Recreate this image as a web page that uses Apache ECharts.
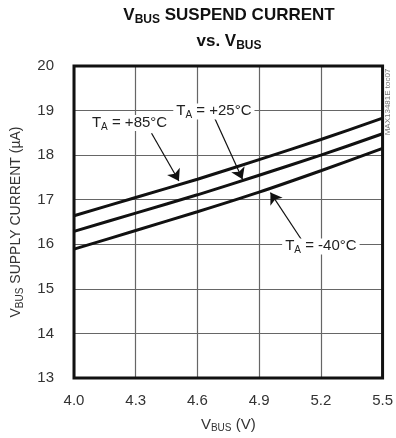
<!DOCTYPE html>
<html>
<head>
<meta charset="utf-8">
<script src="https://cdn.jsdelivr.net/npm/echarts@6/dist/echarts.min.js"></script>
<style>
  html, body { margin: 0; padding: 0; background: #fff; }
  #main { width: 396px; height: 438px; }
</style>
</head>
<body>
<div id="main"></div>
<script>
// VBUS (V) sample points
const vbus = [4.0, 4.3, 4.6, 4.9, 5.2, 5.5];
// supply current (uA) per temperature
const ta85 = [16.64, 17.05, 17.46, 17.90, 18.35, 18.83];
const ta25 = [16.29, 16.70, 17.11, 17.55, 18.00, 18.48];
const taM40 = [15.89, 16.31, 16.73, 17.17, 17.65, 18.15];
// tick labels
const xTicks = ['4.0', '4.3', '4.6', '4.9', '5.2', '5.5'];
const yTicks = [13, 14, 15, 16, 17, 18, 19, 20];
// curve labels: text, label anchor, arrow tail, arrow tip
const curveNotes = [
  { temp: ' = +85°C', at: [4.27, 18.72], from: [4.377, 18.49], to: [4.51, 17.42] },
  { temp: ' = +25°C', at: [4.68, 18.98], from: [4.684, 18.83], to: [4.819, 17.46] },
  { temp: ' = -40°C', at: [5.2, 15.95], from: [5.115, 16.04], to: [4.955, 17.16] }
];

const FONT = "'Liberation Sans', Arial, sans-serif";

const subRich = {
  t: { fontFamily: FONT, fontSize: 15, lineHeight: 16, color: '#222', verticalAlign: 'top' },
  s: { fontFamily: FONT, fontSize: 10, lineHeight: 11, color: '#222', verticalAlign: 'top', padding: [7, 0, 0, 0] }
};

const chart = echarts.init(document.getElementById('main'));

function curve(name, vals) {
  return {
    name: name,
    type: 'line',
    data: vbus.map((v, i) => [v, vals[i]]),
    smooth: 0.3,
    symbol: 'none',
    lineStyle: { color: '#111', width: 3 },
    z: 3
  };
}

const option = {
  animation: false,
  backgroundColor: '#fff',
  grid: { left: 74, right: 9, top: 66, bottom: 60, show: true, borderColor: '#111', borderWidth: 3, z: 4 },
  graphic: [
    {
      type: 'text', x: 229, y: 2,
      style: {
        text: '{b|V}{bs|BUS}{b| SUSPEND CURRENT}\n{b|vs. V}{bs|BUS}',
        align: 'center',
        rich: {
          b: { fontFamily: FONT, fontSize: 17, fontWeight: 'bold', lineHeight: 26, fill: '#111', verticalAlign: 'middle' },
          bs: { fontFamily: FONT, fontSize: 12, fontWeight: 'bold', lineHeight: 12, fill: '#111', verticalAlign: 'middle', padding: [9, 0, 0, 0] }
        }
      }
    },
    {
      type: 'text', x: 388, y: 102, rotation: Math.PI / 2,
      style: { text: 'MAX13481E toc07', align: 'center', verticalAlign: 'middle', fontFamily: FONT, fontSize: 8, fill: '#777' }
    }
  ],
  xAxis: {
    type: 'value',
    min: 4.0,
    max: 5.5,
    interval: 0.3,
    name: '{t|V}{s|BUS}{t| (V)}',
    nameLocation: 'middle',
    nameGap: 39,
    nameTextStyle: { rich: {
      t: { fontFamily: FONT, fontSize: 15, lineHeight: 16, color: '#333', verticalAlign: 'top' },
      s: { fontFamily: FONT, fontSize: 10, lineHeight: 11, color: '#333', verticalAlign: 'top', padding: [6, 0, 0, 0] }
    } },
    axisLine: { show: false },
    axisTick: { show: false },
    axisLabel: {
      margin: 15, fontFamily: FONT, fontSize: 15, color: '#333',
      formatter: v => xTicks.find(t => Math.abs(parseFloat(t) - v) < 1e-6) || ''
    },
    splitLine: { show: true, lineStyle: { color: '#666', width: 1.2 } }
  },
  yAxis: {
    type: 'value',
    min: yTicks[0],
    max: yTicks[yTicks.length - 1],
    interval: 1,
    name: '{t|V}{s|BUS}{t| SUPPLY CURRENT (µA)}',
    nameLocation: 'middle',
    nameGap: 50,
    nameTextStyle: { rich: {
      t: { fontFamily: FONT, fontSize: 14, lineHeight: 15, color: '#333', verticalAlign: 'top' },
      s: { fontFamily: FONT, fontSize: 10, lineHeight: 11, color: '#333', verticalAlign: 'top', padding: [6, 0, 0, 0] }
    } },
    axisLine: { show: false },
    axisTick: { show: false },
    axisLabel: { margin: 20, fontFamily: FONT, fontSize: 15, color: '#333' },
    splitLine: { show: true, lineStyle: { color: '#666', width: 1.2 } }
  },
  series: [
    curve('TA = +85°C', ta85),
    curve('TA = +25°C', ta25),
    curve('TA = -40°C', taM40),
    {
      name: 'notes',
      type: 'line',
      data: [],
      z: 5,
      markLine: {
        silent: true,
        symbol: ['none', 'arrow'],
        symbolSize: 11,
        label: { show: false },
        lineStyle: { color: '#111', width: 1.2, type: 'solid' },
        itemStyle: { color: '#111' },
        emphasis: { disabled: true },
        data: curveNotes.map(n => [{ coord: n.from }, { coord: n.to }])
      },
      markPoint: {
        silent: true,
        symbol: 'rect',
        symbolSize: 0,
        data: curveNotes.map(n => ({
          coord: n.at,
          label: {
            show: true,
            position: 'inside',
            backgroundColor: '#fff',
            padding: [0, 3, 0, 3],
            formatter: '{t|T}{s|A}{t|' + n.temp + '}',
            rich: subRich
          }
        }))
      }
    }
  ]
};

chart.setOption(option);
</script>
</body>
</html>
